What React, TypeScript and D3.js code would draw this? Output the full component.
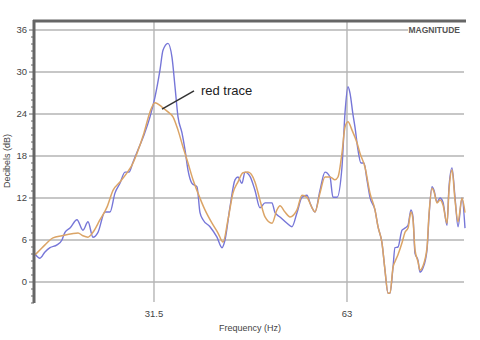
import React from "react";
import * as d3 from "d3";

// Blue trace (measured) – frequency in Hz, level in dB
const blueFreq = [12.08,12.89,13.71,14.53,15.67,16.48,16.97,17.79,18.93,19.91,20.73,21.54,22.36,23.5,24.32,25.13,25.95,26.77,27.42,28.07,28.89,29.87,30.85,31.66,32.48,32.97,33.78,34.44,34.93,35.42,36.07,36.56,37.05,37.7,38.52,39.01,39.5,40.64,41.78,42.6,43.09,43.9,44.72,45.21,45.86,46.35,47.17,47.98,48.8,49.62,50.76,51.25,52.06,53.21,54.02,54.84,55.66,56.47,56.96,57.78,58.59,59.41,60.23,60.71,61.37,62.18,62.67,63.16,63.49,63.98,64.31,64.79,65.28,65.77,66.26,66.75,67.57,68.06,68.71,69.2,69.69,70.02,70.51,70.83,71.32,71.98,72.47,72.96,73.44,73.77,74.1,74.59,74.91,75.4,76.06,76.38,76.87,77.2,77.69,78.18,78.67,79.32,79.65,80.14,80.63,81.12,81.77,82.26];
const blueDb = [4.0,3.4,4.3,4.9,5.3,6.0,7.1,7.7,8.9,7.4,8.6,6.4,7.1,10.0,10.0,12.7,14.1,15.7,15.7,17.1,18.9,21.0,23.6,26.4,30.3,33.1,34.1,32.1,27.9,23.6,21.3,18.9,16.0,14.1,13.6,9.9,8.9,7.9,6.4,4.9,6.0,10.7,14.6,15.0,14.1,15.7,15.1,13.1,10.6,11.3,11.3,9.9,9.3,8.4,7.9,9.9,12.1,12.4,11.3,10.0,13.1,15.7,15.0,12.1,12.1,16.4,24.1,27.9,27.0,23.9,22.1,18.9,17.0,17.0,14.6,12.1,10.3,7.9,5.6,1.7,-1.6,-1.6,2.1,4.9,5.0,7.4,7.7,8.1,10.3,9.3,4.1,3.1,1.4,2.0,4.6,9.3,13.6,13.1,11.4,12.0,11.4,8.1,13.6,16.3,12.1,7.9,12.0,7.7];

// Orange ("red trace") – smoothed
const orangeFreq = [12.08,12.57,13.71,15.02,16.48,18.12,19.1,19.91,20.73,21.54,22.69,23.83,24.81,25.95,27.09,27.91,28.73,29.87,30.85,31.66,32.81,33.78,34.6,35.42,36.23,37.05,37.87,38.68,39.82,40.97,41.95,42.76,43.58,44.39,45.21,46.03,46.84,47.98,48.8,49.62,50.76,51.57,52.06,52.88,53.7,54.84,55.66,56.47,57.29,57.78,58.59,59.41,60.23,61.04,61.53,62.18,62.67,63.16,63.82,64.63,65.12,65.94,66.75,67.57,68.06,68.71,69.2,69.69,70.02,70.51,70.83,71.32,71.98,72.47,72.96,73.44,73.77,74.1,74.59,74.91,75.4,76.06,76.38,76.87,77.2,77.69,78.18,78.67,79.32,79.65,80.14,80.63,81.12,81.77,82.26];
const orangeDb = [3.9,4.3,5.3,6.3,6.6,6.9,7.0,6.6,6.4,7.1,8.9,10.7,13.1,14.3,15.6,16.7,18.4,21.3,24.3,25.6,25.0,24.3,23.6,21.7,19.3,17.0,14.6,12.7,10.3,8.4,7.0,5.7,8.9,12.7,14.3,15.6,15.7,14.3,11.7,9.3,8.4,10.3,10.9,10.0,9.3,10.3,12.4,12.1,10.6,10.0,12.7,15.0,15.0,14.6,15.0,18.4,22.1,22.9,21.7,19.9,18.4,16.4,12.7,10.3,7.9,5.6,1.7,-1.6,-1.6,2.1,2.9,3.9,5.6,7.1,7.7,10.0,8.9,4.6,2.9,1.7,2.3,4.9,9.6,13.4,12.9,11.3,11.7,11.0,8.4,13.1,16.0,11.7,8.6,12.0,9.9];

const yTicks = [0, 6, 12, 18, 24, 30, 36];
const xTickValues = [31.5, 63];
const xTickLabels = ["31.5", "63"];

export default function App() {
  const W = 480, H = 340;
  const left = 35, right = 465, top = 21, bottom = 303;
  const x = d3.scaleLinear().domain([12.08, 82.26]).range([left, right]);
  const y = d3.scaleLinear().domain([-3, 37.29]).range([bottom, top]);

  const line = d3.line<[number, number]>()
    .x((d) => x(d[0]))
    .y((d) => y(d[1]))
    .curve(d3.curveMonotoneX);

  const blue = blueFreq.map((f, i) => [f, blueDb[i]] as [number, number]);
  const orange = orangeFreq.map((f, i) => [f, orangeDb[i]] as [number, number]);

  const minor = d3.range(-3, 37, 1);
  const font = "Arial, 'Liberation Sans', sans-serif";

  return (
    <svg width={W} height={H} style={{ position: "absolute", left: 0, top: 0, background: "#fff" }}>
      {/* horizontal gridlines */}
      {yTicks.map((t) => (
        <line key={"g" + t} x1={left} x2={t === 36 ? 408 : right - 1} y1={y(t)} y2={y(t)} stroke="#b5b5b5" strokeWidth={1.4} />
      ))}
      {/* vertical gridlines */}
      {xTickValues.map((t) => (
        <line key={"v" + t} x1={x(t)} x2={x(t)} y1={top} y2={bottom - 1} stroke="#b5b5b5" strokeWidth={1.4} />
      ))}
      {/* traces */}
      <path d={line(blue) || ""} fill="none" stroke="#7676d8" strokeWidth={1.4} />
      <path d={line(orange) || ""} fill="none" stroke="#dba466" strokeWidth={1.5} />
      {/* frame */}
      <line x1={33} x2={466} y1={top} y2={top} stroke="#666" strokeWidth={3} />
      <line x1={34} x2={34} y1={top - 1} y2={bottom} stroke="#666" strokeWidth={3} />
      {minor.map((t) => (
        <line key={"m" + t} x1={t % 6 === 0 ? 29 : 31} x2={34} y1={y(t)} y2={y(t)} stroke="#666" strokeWidth={1} />
      ))}
      {/* y tick labels */}
      {yTicks.map((t) => (
        <text key={"yl" + t} x={27} y={y(t)} dy="0.35em" textAnchor="end" fontFamily={font} fontSize={9.5} fill="#444">{t}</text>
      ))}
      {/* x tick labels */}
      {xTickValues.map((t, i) => (
        <text key={"xl" + t} x={x(t)} y={317} textAnchor="middle" fontFamily={font} fontSize={9.5} fill="#444">{xTickLabels[i]}</text>
      ))}
      <text x={250} y={331} textAnchor="middle" fontFamily={font} fontSize={9} fill="#444">Frequency (Hz)</text>
      <text transform={`translate(10,${161}) rotate(-90)`} textAnchor="middle" fontFamily={font} fontSize={9} fill="#444">Decibels (dB)</text>
      <text x={460} y={33} textAnchor="end" fontFamily={font} fontSize={8.5} fontWeight="bold" fill="#555">MAGNITUDE</text>
      {/* annotation */}
      <line x1={x(32.81)} y1={y(24.7)} x2={x(38.03)} y2={y(27.3)} stroke="#333" strokeWidth={1.5} />
      <text x={x(39.17)} y={y(26.7)} fontFamily={font} fontSize={13} fill="#222">red trace</text>
    </svg>
  );
}
